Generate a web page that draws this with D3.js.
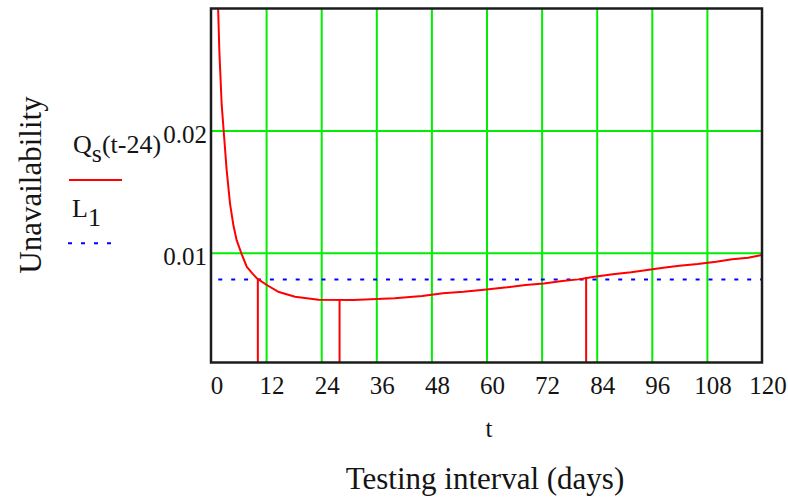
<!DOCTYPE html>
<html>
<head>
<meta charset="utf-8">
<script src="https://cdn.jsdelivr.net/npm/d3@7"></script>
<style>
  html, body { margin: 0; padding: 0; background: #fff; }
  svg { display: block; }
  text { font-family: "Liberation Serif", "Times New Roman", serif; fill: #141414; }
</style>
</head>
<body>
<svg id="chart" width="788" height="502"></svg>
<script>
// Testing interval t (days) and the unavailability Q_s(t-24) at each interval
const intervalDays = [1.45, 1.55, 1.82, 2.33, 2.84, 3.4, 4.15, 4.9, 5.6, 6.7, 7.8, 9.0, 10.0, 12.15, 14.6, 18.3, 23.4,
  31, 40, 46, 50.5, 55, 60, 64.5, 68.5, 72.5, 76.5, 80, 83.5, 87.5, 91.5, 95, 98.5, 102, 106, 110, 113.5, 117, 120];
const unavailability = [0.0315, 0.0300, 0.0265, 0.0221, 0.0196, 0.0168, 0.0140, 0.0122, 0.0110, 0.00986, 0.00884, 0.0083, 0.00789, 0.00735, 0.0068, 0.00639, 0.00615,
  0.00612, 0.00626, 0.00645, 0.00667, 0.0068, 0.00699, 0.00716, 0.00735, 0.00748, 0.00767, 0.00781, 0.00803, 0.00822, 0.00839, 0.00857, 0.00876, 0.00893, 0.00907, 0.00925, 0.00945, 0.00958, 0.0098];

// Drop lines: the two crossings with the limit L1 and the minimum
const markerDays = [10.2, 28, 81.7];
const markerValues = [0.0078, 0.00612, 0.0080];

// Limit L1
const limitL1 = 0.0078;

// Axis ticks
const xTicks = [0, 12, 24, 36, 48, 60, 72, 84, 96, 108, 120];
const yTicks = [0.01, 0.02];
const xDomain = [0, 120];
const yDomain = [0.001, 0.03];

const plot = { left: 211, right: 762, top: 8.5, bottom: 362.5 };
const red = "#ff0000", blue = "#0000ff", green = "#00ee00";

const svg = d3.select("#chart");
const x = d3.scaleLinear().domain(xDomain).range([plot.left, plot.right]);
const y = d3.scaleLinear().domain(yDomain).range([plot.bottom, plot.top]);

svg.append("defs").append("clipPath").attr("id", "plot-clip")
  .append("rect")
  .attr("x", plot.left).attr("y", plot.top)
  .attr("width", plot.right - plot.left).attr("height", plot.bottom - plot.top);

// Vertical grid lines
svg.append("g")
  .attr("transform", `translate(0,${plot.bottom})`)
  .call(d3.axisBottom(x)
    .tickValues(xTicks.filter(d => d > xDomain[0] && d < xDomain[1]))
    .tickSize(-(plot.bottom - plot.top))
    .tickFormat(""))
  .call(g => {
    g.select(".domain").remove();
    g.selectAll(".tick line").attr("stroke", green).attr("stroke-width", 2);
  });

// Horizontal grid lines
svg.append("g")
  .attr("transform", `translate(${plot.left},0)`)
  .call(d3.axisLeft(y)
    .tickValues(yTicks)
    .tickSize(-(plot.right - plot.left))
    .tickFormat(""))
  .call(g => {
    g.select(".domain").remove();
    g.selectAll(".tick line").attr("stroke", green).attr("stroke-width", 2);
  });

const layer = svg.append("g").attr("clip-path", "url(#plot-clip)");

// Limit L1 as a dotted line
layer.append("line")
  .attr("x1", x(xDomain[0])).attr("x2", x(xDomain[1]))
  .attr("y1", y(limitL1)).attr("y2", y(limitL1))
  .attr("stroke", blue).attr("stroke-width", 2)
  .attr("stroke-dasharray", "4 8.9").attr("stroke-dashoffset", 5.6);

// Q_s curve
const curveData = intervalDays.map((t, i) => [t, unavailability[i]]);
layer.append("path")
  .datum(curveData)
  .attr("fill", "none")
  .attr("stroke", red).attr("stroke-width", 2)
  .attr("stroke-linejoin", "round")
  .attr("d", d3.line().x(d => x(d[0])).y(d => y(d[1])));

// Drop lines from the axis up to the curve
layer.selectAll("line.marker")
  .data(markerDays.map((t, i) => [t, markerValues[i]]))
  .join("line")
  .attr("class", "marker")
  .attr("x1", d => x(d[0])).attr("x2", d => x(d[0]))
  .attr("y1", y(yDomain[0])).attr("y2", d => y(d[1]))
  .attr("stroke", red).attr("stroke-width", 2);

// Plot frame
svg.append("rect")
  .attr("x", plot.left).attr("y", plot.top)
  .attr("width", plot.right - plot.left).attr("height", plot.bottom - plot.top)
  .attr("fill", "none").attr("stroke", "#1c1c1c").attr("stroke-width", 2.5);

// X tick labels
svg.append("g")
  .attr("transform", `translate(0,${plot.bottom})`)
  .call(d3.axisBottom(x).tickValues(xTicks).tickSize(0).tickFormat(d3.format("d")))
  .call(g => {
    g.select(".domain").remove();
    g.selectAll(".tick text")
      .attr("y", 31.5).attr("dy", null).attr("dx", 5.5)
      .attr("font-size", 25)
      .attr("font-family", "Liberation Serif, serif")
      .attr("fill", "#141420");
  });

// Y tick labels
svg.append("g")
  .attr("transform", `translate(${plot.left},0)`)
  .call(d3.axisLeft(y).tickValues(yTicks).tickSize(0).tickFormat(d3.format(".2f")))
  .call(g => {
    g.select(".domain").remove();
    g.selectAll(".tick text")
      .attr("x", -4).attr("dy", 12)
      .attr("font-size", 25)
      .attr("font-family", "Liberation Serif, serif")
      .attr("fill", "#141420");
  });

// Axis titles
svg.append("text")
  .attr("x", 489).attr("y", 437)
  .attr("text-anchor", "middle").attr("font-size", 25)
  .text("t");

svg.append("text")
  .attr("x", 485).attr("y", 489)
  .attr("text-anchor", "middle").attr("font-size", 31)
  .text("Testing interval (days)");

svg.append("text")
  .attr("transform", "translate(41,185) rotate(-90)")
  .attr("text-anchor", "middle").attr("font-size", 31)
  .text("Unavailability");

// Legend
const legQ = svg.append("text").attr("x", 73).attr("y", 153).attr("font-size", 26);
legQ.append("tspan").text("Q");
legQ.append("tspan").attr("dy", 9).text("s");
legQ.append("tspan").attr("dy", -9).text("(t-24)");

svg.append("line")
  .attr("x1", 69).attr("x2", 122).attr("y1", 180).attr("y2", 180)
  .attr("stroke", red).attr("stroke-width", 2);

const legL = svg.append("text").attr("x", 72).attr("y", 217).attr("font-size", 26);
legL.append("tspan").text("L");
legL.append("tspan").attr("dy", 9).text("1");

svg.append("line")
  .attr("x1", 68).attr("x2", 112).attr("y1", 243.3).attr("y2", 243.3)
  .attr("stroke", blue).attr("stroke-width", 2)
  .attr("stroke-dasharray", "4 9");
</script>
</body>
</html>
